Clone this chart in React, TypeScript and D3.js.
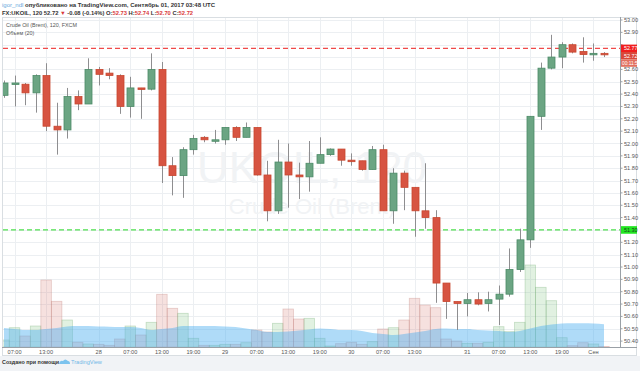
import React from "react";
import * as d3 from "d3";

// 2h candles, FX:UKOIL
const opens = [52.39, 52.48, 52.48, 52.41, 52.55, 52.14, 52.11, 52.38, 52.32, 52.6, 52.57, 52.55, 52.3, 52.45, 52.44, 52.6, 51.82, 51.74, 51.95, 52.05, 52.02, 52.03, 52.13, 52.05, 52.13, 51.745, 51.455, 51.85, 51.745, 51.73, 51.84, 51.91, 51.955, 51.865, 51.86, 51.79, 51.95, 51.455, 51.76, 51.645, 51.455, 51.4, 50.87, 50.72, 50.705, 50.735, 50.705, 50.74, 50.78, 50.98, 51.22, 52.22, 52.61, 52.7, 52.8, 52.745, 52.725, 52.73];
const highs = [52.51, 52.55, 52.49, 52.56, 52.65, 52.33, 52.45, 52.43, 52.69, 52.62, 52.61, 52.56, 52.54, 52.45, 52.73, 52.66, 51.89, 51.97, 52.07, 52.06, 52.11, 52.13, 52.14, 52.17, 52.13, 51.86, 52.03, 52.0, 51.845, 52.02, 52.05, 51.96, 51.955, 51.92, 51.86, 51.98, 51.99, 51.8, 51.78, 51.645, 51.84, 51.46, 50.87, 50.72, 50.79, 50.795, 50.8, 50.85, 51.15, 51.31, 52.22, 52.655, 52.88, 52.82, 52.81, 52.86, 52.81, 52.74];
const lows = [52.37, 52.3, 52.31, 52.25, 52.1, 51.91, 52.04, 52.27, 52.32, 52.47, 52.52, 52.24, 52.21, 52.2, 52.43, 51.68, 51.58, 51.56, 51.91, 52.01, 52.0, 51.99, 52.02, 52.05, 51.74, 51.37, 51.43, 51.48, 51.55, 51.61, 51.84, 51.9, 51.82, 51.82, 51.78, 51.79, 51.455, 51.35, 51.46, 51.245, 51.31, 50.71, 50.58, 50.49, 50.6, 50.69, 50.64, 50.53, 50.76, 50.96, 51.155, 52.11, 52.6, 52.61, 52.73, 52.655, 52.67, 52.7];
const closes = [52.49, 52.49, 52.41, 52.55, 52.14, 52.11, 52.38, 52.32, 52.6, 52.56, 52.55, 52.3, 52.45, 52.44, 52.6, 51.82, 51.74, 51.95, 52.04, 52.03, 52.03, 52.13, 52.05, 52.13, 51.745, 51.455, 51.85, 51.745, 51.73, 51.84, 51.91, 51.955, 51.865, 51.86, 51.79, 51.95, 51.455, 51.76, 51.645, 51.455, 51.4, 50.87, 50.72, 50.705, 50.735, 50.7, 50.735, 50.78, 50.98, 51.22, 52.22, 52.61, 52.7, 52.8, 52.74, 52.72, 52.73, 52.72];
const volumes = [70, 193, 110, 210, 670, 457, 270, 47, 30, 27, 17, 80, 210, 120, 247, 527, 387, 337, 87, 17, 17, 27, 27, 43, 170, 150, 237, 380, 280, 287, 87, 10, 33, 47, 27, 53, 180, 193, 270, 487, 420, 393, 80, 60, 37, 37, 47, 203, 153, 247, 820, 597, 463, 93, 13, 43, 30, 5];
const volumeMA = [190, 180, 170, 170, 180, 190, 205, 210, 210, 205, 203, 200, 200, 190, 170, 180, 190, 210, 210, 210, 210, 205, 200, 185, 170, 150, 150, 155, 165, 175, 185, 180, 170, 170, 160, 140, 130, 120, 130, 145, 160, 180, 185, 180, 180, 170, 165, 160, 150, 160, 185, 210, 225, 235, 237, 237, 235, 227];

const timeTickIdx = [1, 4, 9, 12, 15, 18, 21, 24, 27, 30, 33, 36, 39, 44, 47, 50, 53, 56];
const timeTickLabels = ["07:00", "13:00", "28", "07:00", "13:00", "19:00", "29", "07:00", "13:00", "19:00", "30", "07:00", "13:00", "31", "07:00", "13:00", "19:00", "Сен"];
const priceTicks = [53.0, 52.9, 52.8, 52.7, 52.6, 52.5, 52.4, 52.3, 52.2, 52.1, 52.0, 51.9, 51.8, 51.7, 51.6, 51.5, 51.4, 51.3, 51.2, 51.1, 51.0, 50.9, 50.8, 50.7, 50.6, 50.5, 50.4];
const redLevel = 52.77;
const greenLevel = 51.3;
const lastPrice = 52.72;
const countdown = "00:11:52";

const FONT = "'Liberation Sans', Arial, sans-serif";
const W = 640;
const H = 371;
const left = 3;
const right = 620;
const top = 17;
const bottom = 347;

const UP = "#6ba583";
const UP_B = "#4b8a67";
const DOWN = "#d75442";
const DOWN_B = "#c8472f";

export default function App() {
  const x = d3.scaleLinear().domain([0, opens.length - 1]).range([4, 604]);
  const step = x(1) - x(0);
  const y = d3.scaleLinear().domain([50.4, 53.0]).range([341.1, 20]);
  const vy = d3.scaleLinear().domain([0, 1000]).range([bottom, bottom - 100]);

  const maArea = d3
    .area<number>()
    .x((d, i) => x(i))
    .y0(vy(0))
    .y1((d) => vy(d))
    .curve(d3.curveMonotoneX);

  const up = (i: number) => closes[i] >= opens[i];

  // price labels on the axis, stacked like TradingView does
  const redY = y(redLevel) - 3.8;
  const lastY = redY + 7.4;
  const cdY = lastY + 7.4;
  const greenY = y(greenLevel) - 3.8;
  const covered = (p: number) => {
    const py = y(p);
    return (py > redY - 3 && py < cdY + 8) || Math.abs(py - y(greenLevel)) < 6;
  };

  return (
    <div>
      <style>{"body{margin:0;background:#fff}"}</style>
      <svg width={W} height={H} style={{ display: "block", fontFamily: FONT }}>
        <rect x={0} y={0} width={W} height={H} fill="#fff" />
        <rect x={0} y={356} width={W} height={H - 356} fill="#f1f3f6" />

        <defs>
          <clipPath id="plot">
            <rect x={left} y={top} width={right - left} height={bottom - top} />
          </clipPath>
        </defs>

        {/* grid */}
        <g stroke="#eceff2" strokeWidth={1}>
          {priceTicks.map((p) => (
            <line key={"h" + p} x1={left} x2={right} y1={Math.round(y(p)) + 0.5} y2={Math.round(y(p)) + 0.5} />
          ))}
          {timeTickIdx.map((t) => (
            <line key={"v" + t} x1={Math.round(x(t)) + 0.5} x2={Math.round(x(t)) + 0.5} y1={top} y2={bottom} />
          ))}
        </g>

        {/* watermark */}
        <g fill="#f1f3f5" textAnchor="middle">
          <text x={312} y={183} fontSize={44}>UKOIL, 120</text>
          <text x={312} y={214} fontSize={22}>Crude Oil (Brent)</text>
        </g>

        <g clipPath="url(#plot)">
          {/* volume */}
          {volumes.map((v, i) => (
            <rect
              key={"v" + i}
              x={x(i) - step / 2}
              y={vy(v)}
              width={step}
              height={vy(0) - vy(v)}
              fill={up(i) ? "rgba(120,190,120,0.22)" : "rgba(215,120,110,0.22)"}
              stroke={up(i) ? "rgba(110,170,110,0.35)" : "rgba(190,120,115,0.35)"}
              strokeWidth={0.8}
            />
          ))}
          <path d={maArea(volumeMA) || ""} fill="rgba(77,176,240,0.45)" />

          {/* level lines */}
          <line x1={left} x2={right} y1={y(redLevel)} y2={y(redLevel)} stroke="#f04a4a" strokeWidth={1.2} strokeDasharray="5,3" />
          <line x1={left} x2={right} y1={y(greenLevel)} y2={y(greenLevel)} stroke="#4fe04f" strokeWidth={1.2} strokeDasharray="5,3" />

          {/* candles */}
          {opens.map((o, i) => {
            const c = closes[i];
            const cx = Math.round(x(i)) + 0.5;
            const yt = y(Math.max(o, c));
            const yb = y(Math.min(o, c));
            return (
              <g key={"c" + i}>
                <line x1={cx} x2={cx} y1={y(highs[i])} y2={y(lows[i])} stroke="#8e8e90" strokeWidth={1} />
                <rect
                  x={cx - 3.5}
                  y={yt}
                  width={7}
                  height={Math.max(1.5, yb - yt)}
                  fill={up(i) ? UP : DOWN}
                  stroke={up(i) ? UP_B : DOWN_B}
                  strokeWidth={0.8}
                />
              </g>
            );
          })}
        </g>

        {/* frame and axes */}
        <rect x={2.5} y={top + 0.5} width={634} height={338} fill="none" stroke="#d9dee2" />
        <line x1={right + 0.5} x2={right + 0.5} y1={top} y2={bottom} stroke="#9aa0a6" />
        <line x1={2} x2={637} y1={bottom + 0.5} y2={bottom + 0.5} stroke="#9aa0a6" />

        <g fontSize={5.6} fill="#555">
          {priceTicks.map((p) => (
            <g key={"pt" + p}>
              <line x1={right} x2={right + 2.5} y1={y(p)} y2={y(p)} stroke="#9aa0a6" />
              {!covered(p) && <text x={right + 4} y={y(p) + 2}>{p.toFixed(2)}</text>}
            </g>
          ))}
          {timeTickIdx.map((t, k) => (
            <text key={"tt" + k} x={x(t)} y={354} textAnchor="middle">{timeTickLabels[k]}</text>
          ))}
        </g>

        {/* price labels */}
        <g fontSize={5.4}>
          <rect x={right + 1} y={redY} width={16} height={7.4} fill="#f01e1e" />
          <text x={right + 4} y={redY + 5.6} fill="#fff">{redLevel.toFixed(2)}</text>
          <rect x={right + 1} y={lastY} width={16} height={7.4} fill="#d9483a" />
          <text x={right + 4} y={lastY + 5.6} fill="#fff">{lastPrice.toFixed(2)}</text>
          <rect x={right + 1} y={cdY} width={16} height={7.4} fill="#e2705f" />
          <text x={right + 2} y={cdY + 5.4} fill="#fff" fontSize={4.8}>{countdown}</text>
          <rect x={right + 1} y={greenY} width={16} height={7.6} fill="#22e622" />
          <text x={right + 4} y={greenY + 5.7} fill="#1b3d1b">{greenLevel.toFixed(2)}</text>
        </g>

        {/* header */}
        <text x={2} y={7} fontSize={6} fontWeight="bold" fill="#333">
          <tspan fill="#6aa9dc" fontWeight="normal">igor_ndl</tspan> опубликовано на TradingView.com, Сентябрь 01, 2017 03:48 UTC
        </text>
        <text x={2} y={14.5} fontSize={5.8} fontWeight="bold" fill="#333">
          FX:UKOIL, 120 52.72 <tspan fill="#d9383a">▼</tspan> -0.08 (-0.14%) O:<tspan fill="#d9383a">52.73</tspan> H:<tspan fill="#d9383a">52.74</tspan> L:<tspan fill="#d9383a">52.70</tspan> C:<tspan fill="#d9383a">52.72</tspan>
        </text>
        <text x={6} y={27} fontSize={5.4} fill="#555">Crude Oil (Brent), 120, FXCM</text>
        <text x={6} y={35} fontSize={5.4} fill="#555">Объем (20)</text>

        {/* footer */}
        <text x={2} y={364} fontSize={5.4} fontWeight="bold" fill="#333">Создано при помощи</text>
        <path d="M59 364 q1 -4 4 -3 q2 -3 5 0 q2 0 2 3 z" fill="#7cc3ee" />
        <text x={71} y={364} fontSize={5.6} fill="#6fb6e6">TradingView</text>
      </svg>
    </div>
  );
}
